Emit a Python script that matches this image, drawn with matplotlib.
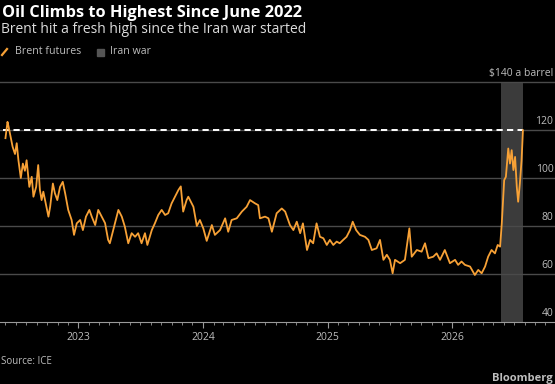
import numpy as np
import pandas as pd
import matplotlib
matplotlib.use("Agg")
from matplotlib import pyplot as plt
import matplotlib.dates as mdates
from matplotlib.lines import Line2D
from matplotlib.patches import Rectangle
from matplotlib.transforms import blended_transform_factory

plt.rcParams["font.family"] = ["Open Sans", "DejaVu Sans"]

# Brent futures, $/bbl
dates = [
    "2022-06-01", "2022-06-07", "2022-06-10", "2022-06-14", "2022-06-22", "2022-06-29",
    "2022-07-04", "2022-07-09", "2022-07-16", "2022-07-22", "2022-07-28", "2022-08-02",
    "2022-08-10", "2022-08-17", "2022-08-22", "2022-08-30", "2022-09-05", "2022-09-10",
    "2022-09-15", "2022-09-20", "2022-09-28", "2022-10-05", "2022-10-10", "2022-10-18",
    "2022-10-24", "2022-10-31", "2022-11-08", "2022-11-16", "2022-11-23", "2022-12-02",
    "2022-12-12", "2022-12-19", "2022-12-27", "2023-01-06", "2023-01-14", "2023-01-23",
    "2023-02-02", "2023-02-09", "2023-02-19", "2023-02-28", "2023-03-10", "2023-03-20",
    "2023-03-29", "2023-04-03", "2023-04-18", "2023-04-28", "2023-05-08", "2023-05-17",
    "2023-05-27", "2023-06-06", "2023-06-16", "2023-06-25", "2023-07-05", "2023-07-15",
    "2023-07-22", "2023-08-04", "2023-08-13", "2023-08-23", "2023-09-02", "2023-09-12",
    "2023-09-21", "2023-10-01", "2023-10-11", "2023-10-21", "2023-10-28", "2023-11-04",
    "2023-11-14", "2023-11-19", "2023-12-04", "2023-12-14", "2023-12-23", "2024-01-02",
    "2024-01-12", "2024-01-27", "2024-02-05", "2024-02-20", "2024-03-06", "2024-03-15",
    "2024-03-25", "2024-04-09", "2024-04-24", "2024-05-08", "2024-05-18", "2024-06-02",
    "2024-06-11", "2024-06-16", "2024-07-01", "2024-07-11", "2024-07-21", "2024-08-04",
    "2024-08-19", "2024-08-29", "2024-09-12", "2024-09-22", "2024-10-02", "2024-10-12",
    "2024-10-20", "2024-11-01", "2024-11-10", "2024-11-19", "2024-11-29", "2024-12-09",
    "2024-12-19", "2024-12-29", "2025-01-07", "2025-01-17", "2025-01-27", "2025-02-05",
    "2025-02-15", "2025-02-25", "2025-03-07", "2025-03-15", "2025-03-25", "2025-04-05",
    "2025-04-20", "2025-04-30", "2025-05-10", "2025-05-24", "2025-06-03", "2025-06-13",
    "2025-06-23", "2025-07-02", "2025-07-10", "2025-07-17", "2025-08-01", "2025-08-15",
    "2025-08-28", "2025-09-04", "2025-09-19", "2025-10-03", "2025-10-13", "2025-10-23",
    "2025-11-06", "2025-11-16", "2025-11-26", "2025-12-10", "2025-12-25", "2026-01-09",
    "2026-01-18", "2026-01-28", "2026-02-07", "2026-02-22", "2026-03-08", "2026-03-18",
    "2026-03-28", "2026-04-07", "2026-04-16", "2026-04-26", "2026-05-06", "2026-05-14",
    "2026-05-21", "2026-05-26", "2026-06-02", "2026-06-07", "2026-06-14", "2026-06-19",
    "2026-06-24", "2026-06-29", "2026-07-04", "2026-07-09", "2026-07-13", "2026-07-18",
    "2026-07-23", "2026-07-27",
]
brent = [
    116.6, 123.4, 121.5, 118.7, 113.0, 110.0,
    114.5, 107.4, 100.0, 106.0, 103.0, 107.4,
    96.3, 100.5, 92.2, 96.3, 105.4, 95.0,
    90.8, 94.3, 88.7, 83.9, 88.0, 97.7,
    93.6, 90.8, 96.3, 98.4, 93.6, 86.7,
    82.5, 76.3, 81.1, 82.5, 78.3, 83.9,
    86.7, 83.9, 80.4, 86.7, 83.9, 81.2,
    74.2, 72.8, 81.1, 86.7, 83.9, 79.7,
    72.8, 77.0, 75.5, 77.0, 72.8, 77.0,
    72.1, 78.3, 81.1, 84.6, 86.7, 84.6,
    85.3, 89.4, 92.2, 95.0, 96.5, 86.0,
    90.8, 92.2, 88.0, 80.0, 82.5, 79.0,
    73.8, 80.4, 76.3, 78.3, 83.2, 77.6,
    82.5, 83.2, 86.0, 88.0, 90.8, 89.4,
    88.7, 83.2, 83.9, 83.2, 77.6, 85.3,
    87.3, 86.0, 80.4, 78.3, 81.8, 77.0,
    81.1, 70.0, 74.2, 72.8, 81.1, 75.5,
    74.9, 72.1, 74.2, 72.1, 73.5, 72.8,
    74.2, 75.5, 78.3, 81.8, 78.3, 76.3,
    75.5, 74.2, 70.0, 70.7, 74.2, 65.9,
    68.0, 65.9, 60.3, 65.9, 64.5, 65.9,
    79.0, 67.2, 70.0, 69.3, 72.8, 66.6,
    67.2, 68.6, 65.9, 70.0, 64.5, 65.9,
    63.8, 65.2, 63.8, 63.1, 59.6, 61.7,
    60.3, 63.1, 67.2, 70.0, 68.6, 72.1,
    71.4, 81.1, 99.1, 100.5, 112.3, 106.0,
    111.6, 103.3, 108.8, 96.3, 90.1, 97.7,
    107.4, 119.9,
]
war_start = "2026-05-23"
war_end = "2026-07-27"
y_ticks = [40, 60, 80, 100, 120, 140]
y_labels = ["40", "60", "80", "100", "120", "$140 a barrel"]
year_ticks = ["2023-01-01", "2024-01-01", "2025-01-01", "2026-01-01"]
year_labels = ["2023", "2024", "2025", "2026"]

BG = "black"
ORANGE = "#f7a136"
GRID = "#4a4a4a"
LABEL = "#bdbdbd"

t = pd.to_datetime(dates)

fig = plt.figure(figsize=(5.55, 3.84), dpi=100, facecolor=BG)
ax = fig.add_axes([0, 1 - 322 / 384, 1, 240 / 384])
ax.set_facecolor(BG)

ax.axvspan(pd.Timestamp(war_start), pd.Timestamp(war_end), color="#3b3b3b", lw=0, zorder=0)

for v in y_ticks[1:]:
    ax.axhline(v, color=GRID, lw=1, zorder=1, clip_on=False)

ax.hlines(brent[-1], t[0] - pd.Timedelta(days=6), t[-1], colors="white",
          linestyles=(0, (3.2, 2.2)), lw=1.4, zorder=2)
ax.plot(t, brent, color=ORANGE, lw=1.3, zorder=3, solid_joinstyle="round")

ax.set_xlim(pd.Timestamp("2022-05-16"), pd.Timestamp("2026-10-29"))
ax.set_ylim(40, 140)

for s in ["top", "left", "right"]:
    ax.spines[s].set_visible(False)
ax.spines["bottom"].set_color("#9a9a9a")
ax.spines["bottom"].set_linewidth(0.8)

ax.set_yticks([])
ax.set_xticks(pd.to_datetime(year_ticks))
ax.set_xticklabels(year_labels)
ax.xaxis.set_minor_locator(mdates.MonthLocator())
ax.tick_params(axis="x", which="major", length=4.5, width=0.8, color="#9a9a9a",
               labelcolor=LABEL, labelsize=7.5, pad=2.5)
ax.tick_params(axis="x", which="minor", length=2.2, width=0.6, color="#9a9a9a")

tr = blended_transform_factory(ax.transAxes, ax.transData)
for v, lab in zip(y_ticks, y_labels):
    ax.text(0.997, v + 1.4, lab, transform=tr, ha="right", va="bottom",
            color=LABEL, fontsize=7.5)

fig.text(0.004, 1 - 13 / 384, "Oil Climbs to Highest Since June 2022", color="white",
         fontsize=11.8, fontweight="bold", va="center", ha="left")
fig.text(0.002, 1 - 29.5 / 384, "Brent hit a fresh high since the Iran war started",
         color="#dcdcdc", fontsize=10, va="center", ha="left")

ly = 1 - 52 / 384
fig.add_artist(Line2D([2 / 555, 7 / 555], [ly - 3 / 384, ly + 3 / 384],
                      color=ORANGE, lw=1.6, transform=fig.transFigure))
fig.text(15 / 555, ly, "Brent futures", color=LABEL, fontsize=7.7, va="center")
fig.add_artist(Rectangle((97 / 555, ly - 3.5 / 384), 7 / 555, 7 / 384, color="#555555",
                         transform=fig.transFigure))
fig.text(110 / 555, ly, "Iran war", color=LABEL, fontsize=7.7, va="center")

fig.text(0.002, 1 - 362 / 384, "Source: ICE", color=LABEL, fontsize=7, va="center")
fig.text(0.996, 1 - 378 / 384, "Bloomberg", color=LABEL, fontsize=8,
         fontweight="bold", va="center", ha="right")

fig.savefig("out.png", dpi=100, facecolor=BG)
